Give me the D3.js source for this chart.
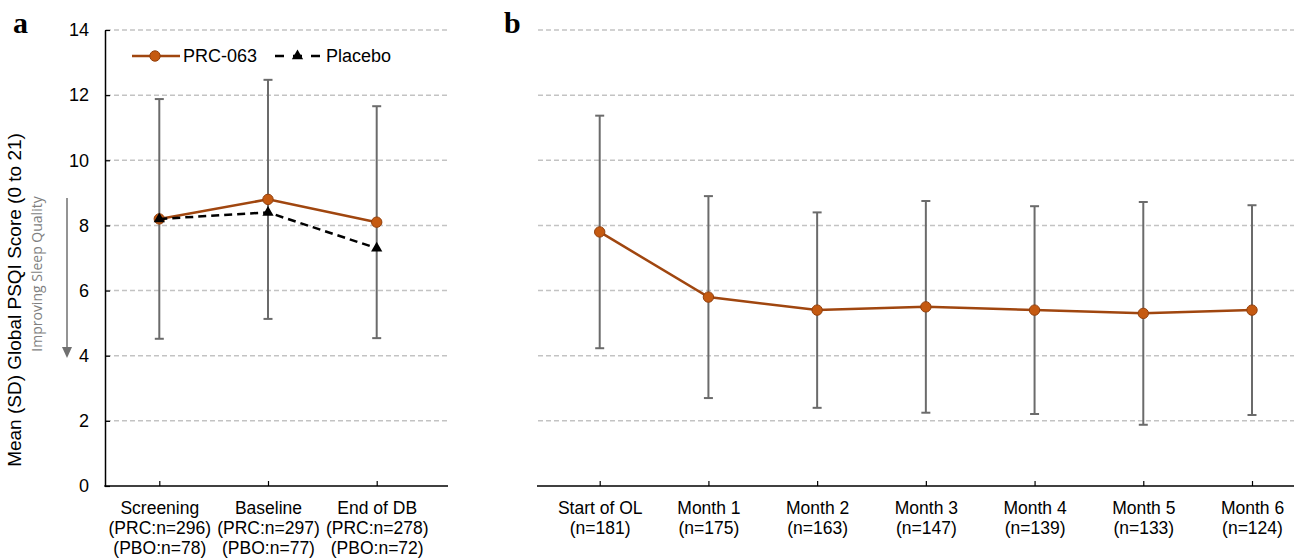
<!DOCTYPE html>
<html>
<head>
<meta charset="utf-8">
<script src="https://cdn.jsdelivr.net/npm/d3@7"></script>
<style>
  body { margin: 0; background: #fff; }
  svg text { font-family: Arial, "Liberation Sans", sans-serif; }
</style>
</head>
<body>
<div id="chart"></div>
<script>
// Panel a: double-blind phase
var catsA = ["Screening", "Baseline", "End of DB"]
var nA = [["(PRC:n=296)", "(PBO:n=78)"], ["(PRC:n=297)", "(PBO:n=77)"], ["(PRC:n=278)", "(PBO:n=72)"]]
var prcMean = [8.2, 8.8, 8.1]
var prcSD = [3.68, 3.67, 3.56]
var pboMean = [8.2, 8.4, 7.3]

// Panel b: open-label phase
var catsB = ["Start of OL", "Month 1", "Month 2", "Month 3", "Month 4", "Month 5", "Month 6"]
var nB = ["(n=181)", "(n=175)", "(n=163)", "(n=147)", "(n=139)", "(n=133)", "(n=124)"]
var olMean = [7.8, 5.8, 5.4, 5.5, 5.4, 5.3, 5.4]
var olSD = [3.57, 3.1, 3.0, 3.25, 3.19, 3.42, 3.22]

var yTicks = [0, 2, 4, 6, 8, 10, 12, 14]

drawChart()

function drawChart() {

	var width = 1294,
		height = 558

	var brown = "#a0460f",
		orange = "#c55a11",
		barGrey = "#6b6b6b",
		gridGrey = "#c3c3c3"

	const svg = d3.select("#chart").append("svg")
		.attr("width", width)
		.attr("height", height)

	//////////////////////////// Scales ////////////////////////////

	var y = d3.scaleLinear()
		.domain([0, 14])
		.range([486, 30])

	var xA = d3.scalePoint()
		.domain(catsA)
		.range([159.3, 376.7])

	var xB = d3.scalePoint()
		.domain(catsB)
		.range([599.7, 1252])

	var line = (xs, vals) => d3.line()
		.x((d, i) => xs(xs.domain()[i]))
		.y(d => y(d))(vals)

	//////////////////////////// Gridlines ////////////////////////////

	function grid(x0, x1) {
		svg.append("g").selectAll("line")
			.data(yTicks.filter(d => d > 0))
			.enter().append("line")
			.attr("x1", x0).attr("x2", x1)
			.attr("y1", d => y(d)).attr("y2", d => y(d))
			.style("stroke", gridGrey)
			.style("stroke-width", 1.5)
			.style("stroke-dasharray", "5,3")
	}
	grid(106, 448)
	grid(538, 1294)

	//////////////////////////// Axes ////////////////////////////

	svg.append("g")
		.attr("transform", "translate(105,0)")
		.call(d3.axisLeft(y).tickValues(yTicks).tickSizeInner(-5).tickSizeOuter(0).tickPadding(16))
		.call(g => g.select(".domain").style("stroke", "#000").style("stroke-width", 1.5))
		.call(g => g.selectAll(".tick line").style("stroke", "#000").style("stroke-width", 1.2))
		.call(g => g.selectAll(".tick text").style("font-size", "18px").style("fill", "#000"))

	function xAxis(xs, x0, x1, lines) {
		var g = svg.append("g")
			.attr("transform", "translate(0,486)")
			.call(d3.axisBottom(xs).tickSizeInner(-5).tickSizeOuter(0).tickFormat(""))
		g.select(".domain").remove()
		g.selectAll(".tick line").style("stroke", "#000").style("stroke-width", 1.2)
		g.append("line")
			.attr("x1", x0).attr("x2", x1)
			.style("stroke", "#000").style("stroke-width", 1.5)
		g.selectAll(".tick").append("text")
			.attr("text-anchor", "middle")
			.style("font-size", "17.5px")
			.style("fill", "#000")
			.each(function(d, i) {
				var t = d3.select(this)
				var rows = [d].concat(lines[i])
				rows.forEach((r, j) => {
					t.append("tspan").attr("x", 0).attr("y", 28 + j * 19.8).text(r)
				})
			})
	}
	xAxis(xA, 104.3, 448, nA)
	xAxis(xB, 537, 1294, nB.map(d => [d]))

	//////////////////////////// Error bars ////////////////////////////

	function errorBars(xs, mean, sd) {
		var g = svg.append("g")
			.style("stroke", barGrey)
			.style("stroke-width", 2)
		var cats = xs.domain()
		g.selectAll(".v").data(mean).enter().append("line")
			.attr("x1", (d, i) => xs(cats[i])).attr("x2", (d, i) => xs(cats[i]))
			.attr("y1", (d, i) => y(d + sd[i])).attr("y2", (d, i) => y(d - sd[i]))
		var caps = []
		mean.forEach((d, i) => { caps.push([i, d + sd[i]]); caps.push([i, d - sd[i]]) })
		g.selectAll(".c").data(caps).enter().append("line")
			.attr("x1", d => xs(cats[d[0]]) - 4.5).attr("x2", d => xs(cats[d[0]]) + 4.5)
			.attr("y1", d => y(d[1])).attr("y2", d => y(d[1]))
	}
	errorBars(xA, prcMean, prcSD)
	errorBars(xB, olMean, olSD)

	//////////////////////////// Series ////////////////////////////

	function prcSeries(xs, vals) {
		svg.append("path")
			.attr("d", line(xs, vals))
			.style("fill", "none")
			.style("stroke", brown)
			.style("stroke-width", 2.5)
		svg.append("g").selectAll("circle")
			.data(vals).enter().append("circle")
			.attr("cx", (d, i) => xs(xs.domain()[i]))
			.attr("cy", d => y(d))
			.attr("r", 5.2)
			.style("fill", orange)
			.style("stroke", "#93400c")
			.style("stroke-width", 1)
	}
	prcSeries(xA, prcMean)
	prcSeries(xB, olMean)

	svg.append("path")
		.attr("d", line(xA, pboMean))
		.style("fill", "none")
		.style("stroke", "#000")
		.style("stroke-width", 2.5)
		.style("stroke-dasharray", "8,5")

	var tri = d3.symbol().type(d3.symbolTriangle).size(55)
	svg.append("g").selectAll("path")
		.data(pboMean).enter().append("path")
		.attr("d", tri)
		.attr("transform", (d, i) => `translate(${xA(catsA[i])},${y(d)})`)
		.style("fill", "#000")

	//////////////////////////// Legend ////////////////////////////

	var leg = svg.append("g").attr("transform", "translate(0,56)")
	leg.append("line").attr("x1", 132).attr("x2", 180)
		.style("stroke", brown).style("stroke-width", 2.5)
	leg.append("circle").attr("cx", 155).attr("r", 5.2)
		.style("fill", orange).style("stroke", "#93400c")
	leg.append("text").attr("x", 183).attr("dy", "0.35em")
		.style("font-size", "18px").text("PRC-063")
	leg.append("line").attr("x1", 275).attr("x2", 320)
		.style("stroke", "#000").style("stroke-width", 2.5)
		.style("stroke-dasharray", "9,9")
	leg.append("path").attr("d", tri).attr("transform", "translate(297.5,0)")
	leg.append("text").attr("x", 326).attr("dy", "0.35em")
		.style("font-size", "18px").text("Placebo")

	//////////////////////////// Titles ////////////////////////////

	svg.append("text")
		.attr("transform", "translate(21,300) rotate(-90)")
		.attr("text-anchor", "middle")
		.style("font-size", "19px")
		.text("Mean (SD) Global PSQI Score (0 to 21)")

	svg.append("text")
		.attr("transform", "translate(42,274) rotate(-90)")
		.attr("text-anchor", "middle")
		.style("font-family", "'Open Sans', sans-serif")
		.style("font-size", "14px")
		.style("fill", "#7f7f7f")
		.text("Improving Sleep Quality")

	svg.append("line")
		.attr("x1", 67).attr("x2", 67)
		.attr("y1", 198).attr("y2", 349)
		.style("stroke", "#707070").style("stroke-width", 1.5)
	svg.append("path")
		.attr("d", "M62,347L72,347L67,358Z")
		.style("fill", "#707070")

	svg.append("text").attr("x", 13).attr("y", 33)
		.style("font-family", "'Liberation Serif', 'Times New Roman', serif")
		.style("font-weight", "bold").style("font-size", "30px")
		.text("a")
	svg.append("text").attr("x", 504).attr("y", 33)
		.style("font-family", "'Liberation Serif', 'Times New Roman', serif")
		.style("font-weight", "bold").style("font-size", "30px")
		.text("b")

}//function drawChart
</script>
</body>
</html>
